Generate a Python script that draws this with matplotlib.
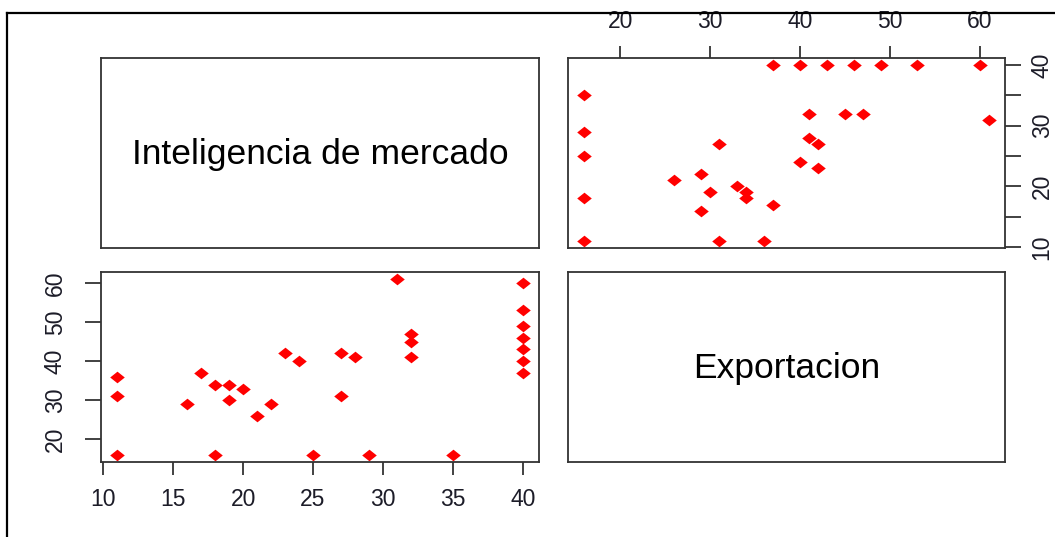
import matplotlib
matplotlib.use("Agg")
import matplotlib.pyplot as plt
from matplotlib.lines import Line2D

# values (one point per case)
inteligencia = [11, 11, 11, 16, 17, 18, 18, 19, 19, 20, 21, 22, 23, 24, 25, 27,
                27, 28, 29, 31, 32, 32, 32, 35, 40, 40, 40, 40, 40, 40, 40]
exportacion = [36, 31, 16, 29, 37, 34, 16, 34, 30, 33, 26, 29, 42, 40, 16, 42,
               31, 41, 16, 61, 47, 45, 41, 16, 60, 53, 49, 46, 43, 40, 37]
var_names = ["Inteligencia de mercado", "Exportacion"]
int_ticks = [10, 15, 20, 25, 30, 35, 40]
int_right_labels = ["10", "", "20", "", "30", "", "40"]
exp_ticks = [20, 30, 40, 50, 60]

plt.rcParams["font.family"] = ["Liberation Sans", "DejaVu Sans"]

W, H = 1055, 537


def box(x0, y0, x1, y1):
    # pixel box -> figure fraction rect
    return [x0 / W, 1 - y1 / H, (x1 - x0) / W, (y1 - y0) / H]


def pad_range(v):
    # R style 4% extension
    lo, hi = min(v), max(v)
    d = (hi - lo) * 0.04
    return lo - d, hi + d


def style(ax):
    for s in ax.spines.values():
        s.set_linewidth(1.3)
        s.set_color("#333333")
    ax.tick_params(left=False, bottom=False, labelleft=False, labelbottom=False,
                   width=1.3, color="#333333", labelcolor="#1c1c28", labelsize=16.5)


fig = plt.figure(figsize=(W / 100, H / 100), dpi=100)

cols = [(101, 539), (568, 1005)]
rows = [(58, 248), (272, 462)]

marker = [(-1.25, 0), (0, 1), (1.25, 0), (0, -1)]
mstyle = dict(linestyle="none", marker=marker, markersize=10.5, color="#ff0000",
              markeredgewidth=0)

# diagonal panels with the variable names
for i in range(2):
    ax = fig.add_axes(box(cols[i][0], rows[i][0], cols[i][1], rows[i][1]))
    style(ax)
    ax.set_xticks([])
    ax.set_yticks([])
    ax.text(0.5, 0.49, var_names[i], transform=ax.transAxes, ha="center",
            va="center", fontsize=25.5, color="black")

# upper panel: x = Exportacion, y = Inteligencia
ax = fig.add_axes(box(cols[1][0], rows[0][0], cols[1][1], rows[0][1]))
style(ax)
ax.plot(exportacion, inteligencia, **mstyle)
ax.set_xlim(pad_range(exportacion))
ax.set_ylim(pad_range(inteligencia))
ax.set_xticks(exp_ticks)
ax.set_yticks(int_ticks)
ax.set_yticklabels(int_right_labels)
ax.tick_params(axis="x", top=True, labeltop=True, length=9, pad=9)
# labels kept just inside the right edge (they are clipped in the source)
ax.tick_params(axis="y", right=True, labelright=True, length=11.5, pad=7,
               labelrotation=90)
for t in ax.get_yticklabels():
    t.set_va("center")

# lower panel: x = Inteligencia, y = Exportacion
ax = fig.add_axes(box(cols[0][0], rows[1][0], cols[0][1], rows[1][1]))
style(ax)
ax.plot(inteligencia, exportacion, **mstyle)
ax.set_xlim(pad_range(inteligencia))
ax.set_ylim(pad_range(exportacion))
ax.set_xticks(int_ticks)
ax.set_yticks(exp_ticks)
ax.tick_params(axis="x", bottom=True, labelbottom=True, length=9, pad=10)
ax.tick_params(axis="y", left=True, labelleft=True, length=11.5, pad=13,
               labelrotation=90)
for t in ax.get_yticklabels():
    t.set_va("center")

# screenshot frame on the left and top
fig.add_artist(Line2D([7 / W, 7 / W], [0, 1 - 12.5 / H], color="black", lw=1.6))
fig.add_artist(Line2D([7 / W, 1], [1 - 12.5 / H, 1 - 12.5 / H], color="black", lw=1.6))

fig.savefig("out.png", dpi=100)
